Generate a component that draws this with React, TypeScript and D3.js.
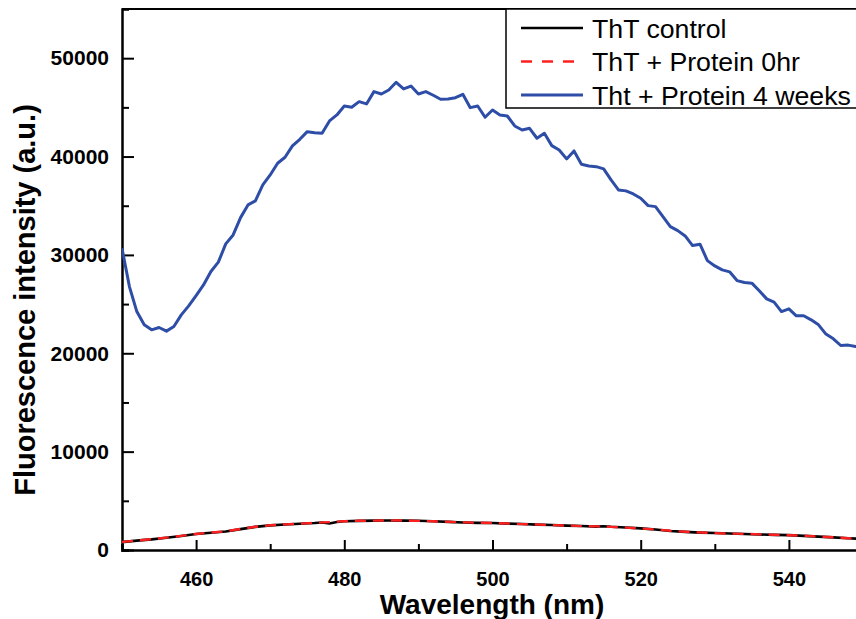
import React, {useEffect, useRef} from 'react';
import * as d3 from 'd3';

// wavelengths (nm) and intensities
const blueWavelengths: number[] = d3.range(450, 551);
const blueValues: number[] = [
    30680, 26780, 24240, 22890, 22380, 22620, 22250, 22720, 23900, 24820,
    25870, 26950, 28310, 29260, 31120, 32030, 33790, 35080, 35490, 37120,
    38130, 39320, 39930, 41080, 41750, 42530, 42430, 42370, 43620, 44230,
    45140, 45010, 45580, 45350, 46600, 46360, 46770, 47550, 46870, 47170,
    46360, 46600, 46230, 45820, 45850, 45980, 46330, 44970, 45140, 43990,
    44730, 44230, 44120, 43110, 42700, 42870, 41860, 42370, 41110, 40670,
    39760, 40570, 39220, 39040, 38970, 38740, 37620, 36610, 36510, 36200,
    35760, 35010, 34910, 33890, 32880, 32470, 31930, 30950, 31090, 29420,
    28880, 28480, 28280, 27390, 27190, 27130, 26350, 25530, 25200, 24240,
    24520, 23810, 23810, 23400, 22890, 21950, 21470, 20790, 20830, 20690,
    20600
];

const controlWavelengths: number[] = [
    450, 452, 454, 456, 458, 460, 462, 464, 466, 468, 470, 472, 474, 476, 477, 478, 479, 480,
    482, 484, 486, 488, 490, 492, 494, 496, 498, 500, 502, 504, 506, 508, 510, 512, 514, 515,
    516, 518, 520, 522, 524, 526, 528, 530, 532, 534, 536, 538, 540, 542, 544, 546, 548, 550
];
const controlValues: number[] = [
    800, 950, 1080, 1250, 1430, 1620, 1760, 1880, 2120, 2350, 2500, 2590, 2670, 2740, 2800, 2700, 2850, 2920,
    2960, 2990, 3000, 2990, 2970, 2920, 2860, 2800, 2760, 2740, 2680, 2640, 2580, 2540, 2480, 2440, 2380, 2420,
    2360, 2280, 2200, 2080, 1930, 1840, 1770, 1730, 1680, 1630, 1580, 1540, 1510, 1440, 1360, 1280, 1190, 1120
];

const zeroHrWavelengths: number[] = [
    450, 452, 454, 456, 458, 460, 462, 464, 466, 468, 470, 472, 474, 476, 478, 480,
    482, 484, 486, 488, 490, 492, 494, 496, 498, 500, 502, 504, 506, 508, 510, 512, 514,
    516, 518, 520, 522, 524, 526, 528, 530, 532, 534, 536, 538, 540, 542, 544, 546, 548, 550
];
const zeroHrValues: number[] = [
    820, 960, 1100, 1260, 1440, 1630, 1780, 1900, 2140, 2360, 2510, 2600, 2680, 2760, 2830, 2930,
    2970, 2990, 3010, 2990, 2960, 2920, 2870, 2810, 2770, 2740, 2690, 2630, 2590, 2530, 2490, 2430, 2400,
    2350, 2270, 2190, 2090, 1950, 1850, 1780, 1720, 1670, 1640, 1590, 1550, 1500, 1450, 1370, 1290, 1200, 1130
];

const xTicks: number[] = [460, 480, 500, 520, 540];
const xMinorTicks: number[] = [450, 470, 490, 510, 530, 550];
const yTicks: number[] = [0, 10000, 20000, 30000, 40000, 50000];
const yMinorTicks: number[] = [5000, 15000, 25000, 35000, 45000];

const legendLabels: string[] = ['ThT control', 'ThT + Protein 0hr', 'Tht + Protein 4 weeks'];
const seriesColors: string[] = ['#000000', '#FF1F1F', '#2E4DA7'];

const width = 856;
const height = 619;
const margin = {top: 9, right: -7, bottom: 69, left: 122};
const font = 'Liberation Sans, Arial, sans-serif';

const FluorescenceChart = () => {
    const anchor = useRef<SVGSVGElement | null>(null);

    useEffect(() => {
        const svg = d3.select(anchor.current);
        svg.selectAll('*').remove();

        const x = d3.scaleLinear().domain([450, 550]).range([margin.left, width - margin.right]);
        const y = d3.scaleLinear().domain([0, 55000]).range([height - margin.bottom, margin.top]);

        svg.append('defs').append('clipPath').attr('id', 'plot-clip')
            .append('rect')
            .attr('x', x(450)).attr('y', y(55000))
            .attr('width', x(550) - x(450)).attr('height', y(0) - y(55000));

        // ticks point into the plot
        const xAxis = svg.append('g').attr('transform', `translate(0,${y(0)})`);
        xAxis.call(d3.axisBottom(x).tickValues(xMinorTicks).tickSize(-6).tickFormat(() => ''));
        xAxis.call(g => g.selectAll('.tick line').attr('stroke-width', 2));
        const xMajor = svg.append('g').attr('transform', `translate(0,${y(0)})`)
            .call(d3.axisBottom(x).tickValues(xTicks).tickSize(-10).tickPadding(22).tickFormat(d3.format('d')));
        xMajor.select('.domain').remove();
        xMajor.selectAll('.tick line').attr('stroke-width', 2);
        xMajor.selectAll('text')
            .attr('font-family', font).attr('font-size', 20).attr('font-weight', 'bold').attr('fill', '#000');
        xAxis.select('.domain').attr('stroke-width', 2.5);

        const yAxis = svg.append('g').attr('transform', `translate(${x(450)},0)`);
        yAxis.call(d3.axisLeft(y).tickValues(yMinorTicks).tickSize(-7).tickFormat(() => ''));
        yAxis.selectAll('.tick line').attr('stroke-width', 2);
        yAxis.select('.domain').attr('stroke-width', 2.5);
        const yMajor = svg.append('g').attr('transform', `translate(${x(450)},0)`)
            .call(d3.axisLeft(y).tickValues(yTicks).tickSize(-12).tickPadding(13).tickFormat(d3.format('d')));
        yMajor.select('.domain').remove();
        yMajor.selectAll('.tick line').attr('stroke-width', 2);
        yMajor.selectAll('text')
            .attr('font-family', font).attr('font-size', 21).attr('font-weight', 'bold').attr('fill', '#000');

        // top frame line
        svg.append('line')
            .attr('x1', x(450)).attr('x2', x(550))
            .attr('y1', y(55000)).attr('y2', y(55000))
            .attr('stroke', '#000').attr('stroke-width', 2);

        const lines = svg.append('g').attr('clip-path', 'url(#plot-clip)');
        const line = d3.line<[number, number]>().x(d => x(d[0])).y(d => y(d[1]));

        lines.append('path')
            .datum(controlWavelengths.map((w, i) => [w, controlValues[i]] as [number, number]))
            .attr('d', line).attr('fill', 'none')
            .attr('stroke', seriesColors[0]).attr('stroke-width', 2.6);
        lines.append('path')
            .datum(zeroHrWavelengths.map((w, i) => [w, zeroHrValues[i]] as [number, number]))
            .attr('d', line).attr('fill', 'none')
            .attr('stroke', seriesColors[1]).attr('stroke-width', 2.4)
            .attr('stroke-dasharray', '11,7');
        lines.append('path')
            .datum(blueWavelengths.map((w, i) => [w, blueValues[i]] as [number, number]))
            .attr('d', line).attr('fill', 'none')
            .attr('stroke', seriesColors[2]).attr('stroke-width', 3)
            .attr('stroke-linejoin', 'round');

        // axis titles
        svg.append('text')
            .attr('x', 492).attr('y', 614)
            .attr('text-anchor', 'middle')
            .attr('font-family', font).attr('font-size', 28).attr('font-weight', 'bold')
            .text('Wavelength (nm)');
        svg.append('text')
            .attr('transform', 'translate(35,300) rotate(-90)')
            .attr('text-anchor', 'middle')
            .attr('font-family', font).attr('font-size', 29).attr('font-weight', 'bold')
            .text('Fluorescence intensity (a.u.)');

        // legend box
        const legend = svg.append('g');
        legend.append('rect')
            .attr('x', 506).attr('y', y(55000))
            .attr('width', 370).attr('height', 108 - y(55000))
            .attr('fill', '#fff').attr('stroke', '#000').attr('stroke-width', 1.5);
        legendLabels.forEach((label, i) => {
            const cy = 28 + i * 33.5;
            legend.append('line')
                .attr('x1', 521).attr('x2', 583).attr('y1', cy).attr('y2', cy)
                .attr('stroke', seriesColors[i]).attr('stroke-width', i === 2 ? 3 : 2.6)
                .attr('stroke-dasharray', i === 1 ? '11,10' : null);
            legend.append('text')
                .attr('x', 592).attr('y', cy + 9.5)
                .attr('font-family', font).attr('font-size', 26.7)
                .text(label);
        });
    }, []);

    return <svg ref={anchor} width={width} height={height}
                style={{position: 'absolute', left: 0, top: 0, background: '#fff'}}/>;
};

export default function App() {
    return <FluorescenceChart/>;
}
